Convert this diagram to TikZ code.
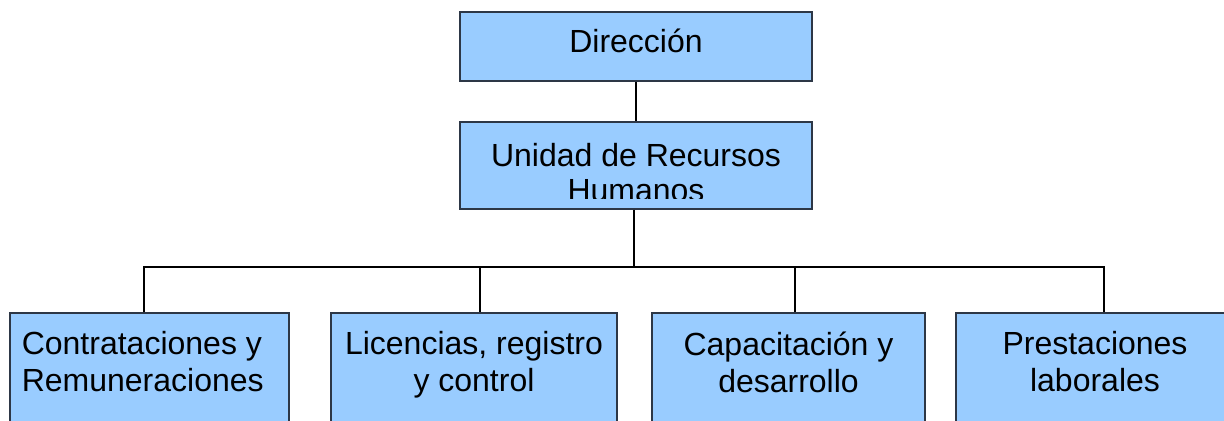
\documentclass[tikz,border=0pt]{standalone}
\usepackage{fontspec}
\setmainfont{Liberation Sans}
\usetikzlibrary{positioning, calc}

\begin{document}
\begin{tikzpicture}[
        x=0.5pt, y=-0.5pt,
        unit/.style={rectangle, draw={rgb,255:red,45;green,55;blue,70}, line width=0.6pt,
            fill={rgb,255:red,153;green,204;blue,255}, inner sep=0pt},
        caption/.style={inner sep=0pt, align=center, font=\fontsize{16}{18.5}\selectfont},
        link/.style={draw=black, line width=1pt},
    ]
        \useasboundingbox (0,0) rectangle (1224,421);
        \clip (0,0) rectangle (1224,421);

        % Draw the top boxes
        \node[unit, minimum width=176pt, minimum height=34.5pt] (dir) at (636,46.5) {};
        \node[caption, anchor=north] (dir-t) at ([yshift=-8.5pt]dir.north) {Dirección};
        \node[unit, minimum width=176pt, minimum height=43.5pt] (rrhh) at (636,165.5) {};
        \begin{scope}
            \clip (460,122) rectangle (812,199);
            \node[caption, anchor=north, font=\fontsize{16}{17.5}\selectfont] (rrhh-t)
                at ([yshift=-11pt]rrhh.north) {Unidad de Recursos\\Humanos};
        \end{scope}

        % Draw the bottom row of units
        \foreach \name/\x/\w in {1/149.5/139.5pt, 2/474/143pt, 3/788.5/136.5pt, 4/1095/139pt}
            \node[unit, minimum width=\w, minimum height=64pt] (A-\name) at (\x,377) {};
        \node[caption, align=left, anchor=north west] (A-1-t) at ([xshift=6pt, yshift=-9.5pt]A-1.north west)
            {Contrataciones y\\Remuneraciones};
        \foreach \name/\txt in {2/{Licencias, registro\\y control},
                                3/{Capacitación y\\desarrollo},
                                4/{Prestaciones\\laborales}}
            \node[caption, anchor=north] (A-\name-t) at ([yshift=-9.5pt]A-\name.north) {\txt};

        % Connect the boxes
        \draw[link] (dir.south) -- (rrhh.north);
        \foreach \name/\x in {1/144, 2/480, 3/795, 4/1104}
            \coordinate (B-\name) at (\x,267);
        \coordinate (bus) at (634,267);
        \draw[link] (rrhh.south -| bus) -- (bus);
        \draw[link] (A-1.north -| B-1) -- (B-1) -- (B-4) -- (A-4.north -| B-4);
        \foreach \name in {2,3}
            \draw[link] (B-\name) -- (A-\name.north -| B-\name);
\end{tikzpicture}
\end{document}
